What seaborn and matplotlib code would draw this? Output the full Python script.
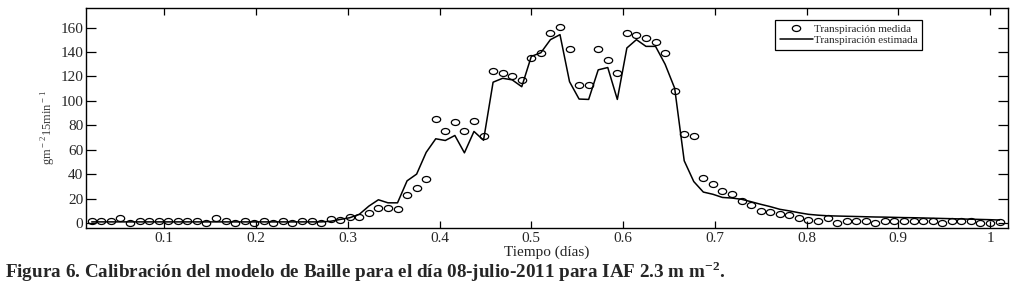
import numpy as np
import pandas as pd
import seaborn as sns
import matplotlib.pyplot as plt
from matplotlib.path import Path
from matplotlib.transforms import Affine2D

# 15-minute slots of the day (slot / 96 = fraction of day)
slot = np.arange(2, 98)
tiempo = slot / 96.0

medida = [
    1.8, 1.8, 1.8, 4.0, 0.0, 1.8, 1.8, 1.8, 1.8, 1.8, 1.8, 1.8, 0.0, 4.0,
    1.8, 0.0, 1.8, 0.0, 1.8, 0.0, 1.8, 0.0, 1.8, 1.8, 0.0, 3.5, 2.5, 4.9,
    4.9, 8.5, 12.1, 12.1, 11.3, 22.8, 29.1, 35.7, 85.2, 75.3, 82.5, 75.3,
    83.3, 71.5, 124.8, 122.6, 120.7, 117.5, 135.5, 139.1, 155.2, 160.2,
    142.6, 113.2, 113.2, 142.6, 133.6, 122.6, 155.3, 154.0, 151.5, 148.2,
    138.8, 108.0, 72.6, 71.0, 36.9, 32.4, 26.4, 23.7, 18.1, 14.8, 9.9, 9.1,
    7.1, 6.3, 4.4, 2.2, 1.6, 3.9, 0.2, 1.6, 1.6, 1.6, 0.3, 1.6, 1.6, 1.6,
    1.6, 1.6, 1.6, 0.3, 1.6, 1.6, 1.6, 0.3, 0.3, 0.8,
]

estimada = [
    1.0, 1.0, 1.0, 1.0, 1.0, 1.0, 1.0, 1.0, 1.0, 1.0, 1.0, 1.0, 1.0, 1.0,
    1.0, 1.0, 1.0, 1.0, 1.0, 1.0, 1.0, 1.0, 1.0, 1.0, 1.0, 1.5, 3.0, 4.4,
    7.2, 13.9, 19.1, 16.6, 16.6, 34.6, 40.1, 57.9, 69.0, 67.6, 71.7, 57.5,
    75.0, 67.8, 115.3, 118.5, 117.2, 111.6, 136.4, 139.4, 150.1, 154.2,
    115.7, 101.5, 101.2, 125.4, 127.3, 101.2, 143.3, 150.1, 144.6, 144.6,
    130.0, 110.4, 51.0, 34.0, 25.4, 23.6, 21.0, 20.5, 19.5, 17.5, 15.4,
    13.5, 11.3, 10.0, 8.5, 7.2, 6.5, 6.0, 5.8, 5.6, 5.4, 5.2, 5.0, 4.9,
    4.7, 4.5, 4.4, 4.2, 4.0, 3.8, 3.6, 3.4, 3.2, 3.0, 2.8, 2.5,
]

xticks = [0.1, 0.2, 0.3, 0.4, 0.5, 0.6, 0.7, 0.8, 0.9, 1.0]
xticklabels = ["0.1", "0.2", "0.3", "0.4", "0.5", "0.6", "0.7", "0.8", "0.9", "1"]
yticks = [0, 20, 40, 60, 80, 100, 120, 140, 160]

df = pd.DataFrame({"tiempo": tiempo, "medida": medida, "estimada": estimada})

sns.set_style("ticks")
plt.rcParams['font.family'] = ['Liberation Serif', 'DejaVu Serif']
plt.rcParams['mathtext.fontset'] = 'custom'
plt.rcParams['mathtext.rm'] = 'Liberation Serif'
plt.rcParams['mathtext.bf'] = 'Liberation Serif:bold'

fig = plt.figure(figsize=(10.15, 2.92), dpi=100)
ax = fig.add_axes([86 / 1015, 1 - 228 / 292, 922 / 1015, 220 / 292])

# flattened circle, as in the scanned figure
ellipse = Path.unit_circle().transformed(Affine2D().scale(1.0, 0.72))

sns.lineplot(data=df, x="tiempo", y="medida", ax=ax, linestyle="none",
             marker=ellipse, markersize=6, mfc="none", mec="black", mew=0.9,
             label="Transpiración medida")
sns.lineplot(data=df, x="tiempo", y="estimada", ax=ax, color="black", lw=1.1,
             label="Transpiración estimada")

ax.set_xlim(0.0146, 1.0196)
ax.set_ylim(-4, 176)
ax.set_xticks(xticks)
ax.set_xticklabels(xticklabels, fontsize=11)
ax.set_yticks(yticks)
ax.tick_params(axis='y', labelsize=11)
ax.tick_params(direction='in', top=True, right=True, width=0.9, color='black')
ax.tick_params(axis='x', length=5, pad=3)
ax.tick_params(axis='y', length=7, pad=2)
for s in ax.spines.values():
    s.set_linewidth(1)
    s.set_color('black')

ax.set_xlabel("Tiempo (días)", fontsize=11, labelpad=0)
ax.set_ylabel(r"gm$^{\rm -2}$15min$^{\rm -1}$", fontsize=9, color='#404040')
ax.yaxis.set_label_coords(-0.03, 0.46)

leg = ax.legend(loc='upper right', bbox_to_anchor=(0.907, 0.945), fontsize=8,
                frameon=True, fancybox=False, edgecolor='black', framealpha=1,
                handlelength=3.0, handletextpad=0.1, borderpad=0.4, labelspacing=0.1,
                borderaxespad=0)
leg.get_frame().set_linewidth(0.9)

fig.text(5 / 1015, 1 - 272 / 292,
         r"Figura 6. Calibración del modelo de Baille para el día 08-julio-2011 para IAF 2.3 m m$^{\mathbf{-2}}$.",
         fontsize=13.8, fontweight='bold', ha='left', va='center')

fig.savefig("out.png", dpi=100)
